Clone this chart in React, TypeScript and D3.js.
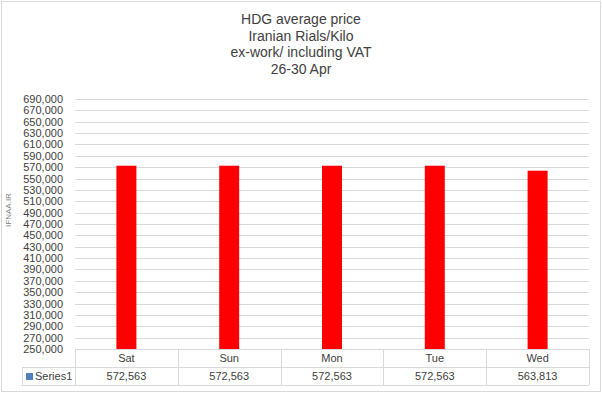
import React from 'react';
import { scaleBand, scaleLinear, range, format } from 'd3';

const days = ['Sat', 'Sun', 'Mon', 'Tue', 'Wed'];
const prices = [572563, 572563, 572563, 572563, 563813];
const titleLines = ['HDG average price', 'Iranian Rials/Kilo', 'ex-work/ including VAT', '26-30 Apr'];
const seriesName = 'Series1';

const W = 602;
const H = 393;
const plot = { left: 75, right: 589, top: 99, bottom: 349 };
const rowH = 18;

function App() {
  const x = scaleBand().domain(days).range([plot.left, plot.right]);
  const y = scaleLinear().domain([250000, 690000]).range([plot.bottom, plot.top]);
  const ticks = range(250000, 690001, 20000);
  const fmt = format(',');
  const barW = 20;
  const tableLeft = 22;
  const font = 'Liberation Sans, Arial, sans-serif';

  return (
    <svg width={W} height={H} style={{ position: 'absolute', left: 0, top: 0 }}>
      <rect x={0} y={0} width={W} height={H} fill="#fff" />
      <rect x={1.5} y={1.5} width={W - 3} height={H - 3} fill="none" stroke="#d9d9d9" />
      {titleLines.map((t, i) => (
        <text key={t} x={301} y={24 + i * 16.5} textAnchor="middle" fontFamily={font} fontSize={14} fill="#404040">
          {t}
        </text>
      ))}
      <text transform="translate(11,210) rotate(-90)" textAnchor="middle" fontFamily={font} fontSize={8} fill="#808080">
        IFNAA.IR
      </text>
      {ticks.map(t => (
        <g key={t}>
          <line x1={plot.left} x2={plot.right} y1={Math.round(y(t)) + 0.5} y2={Math.round(y(t)) + 0.5} stroke="#d9d9d9" />
          <text x={63} y={y(t) + 4} textAnchor="end" fontFamily={font} fontSize={11} fill="#404040">
            {fmt(t)}
          </text>
        </g>
      ))}
      {days.map((d, i) => (
        <rect
          key={d}
          x={x(d)! + x.bandwidth() / 2 - barW / 2}
          y={y(prices[i])}
          width={barW}
          height={plot.bottom - y(prices[i])}
          fill="#ff0000"
        />
      ))}
      {/* data table */}
      <g stroke="#d9d9d9" fill="none">
        <line x1={plot.left + 0.5} x2={plot.left + 0.5} y1={plot.bottom} y2={plot.bottom + rowH * 2} />
        <line x1={tableLeft + 0.5} x2={tableLeft + 0.5} y1={plot.bottom + rowH} y2={plot.bottom + rowH * 2} />
        <line x1={plot.left} x2={plot.right} y1={plot.bottom + 0.5} y2={plot.bottom + 0.5} />
        <line x1={tableLeft} x2={plot.right} y1={plot.bottom + rowH + 0.5} y2={plot.bottom + rowH + 0.5} />
        <line x1={tableLeft} x2={plot.right} y1={plot.bottom + rowH * 2 + 0.5} y2={plot.bottom + rowH * 2 + 0.5} />
        {days.map(d => (
          <line key={d} x1={Math.round(x(d)! + x.bandwidth()) + 0.5} x2={Math.round(x(d)! + x.bandwidth()) + 0.5} y1={plot.bottom} y2={plot.bottom + rowH * 2} />
        ))}
      </g>
      {days.map((d, i) => (
        <g key={d} fontFamily={font} fontSize={11} fill="#404040" textAnchor="middle">
          <text x={x(d)! + x.bandwidth() / 2} y={plot.bottom + 13}>{d}</text>
          <text x={x(d)! + x.bandwidth() / 2} y={plot.bottom + rowH + 13}>{fmt(prices[i])}</text>
        </g>
      ))}
      <rect x={26} y={plot.bottom + rowH + 6} width={7} height={7} fill="#4f81bd" />
      <text x={35} y={plot.bottom + rowH + 13} fontFamily={font} fontSize={11} fill="#404040">{seriesName}</text>
    </svg>
  );
}

export default App;
